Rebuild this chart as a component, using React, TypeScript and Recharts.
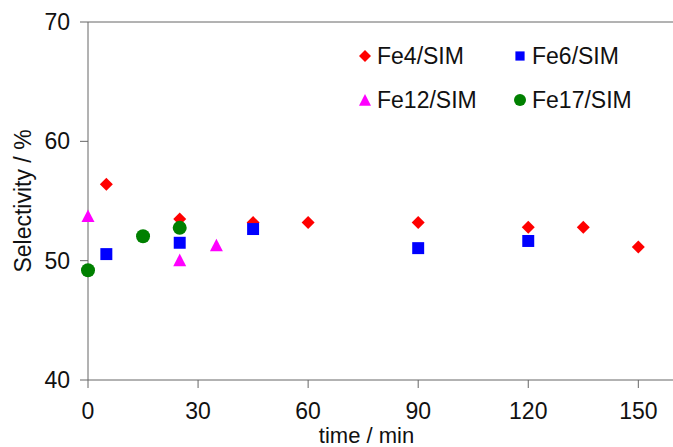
import React from "react";
import {
  ScatterChart,
  Scatter,
  XAxis,
  YAxis,
  ReferenceLine,
  Legend,
} from "recharts";

// time (min) / selectivity (%) per catalyst
const fe4Time = [5, 25, 45, 60, 90, 120, 135, 150];
const fe4Sel = [56.4, 53.5, 53.2, 53.2, 53.2, 52.8, 52.8, 51.15];

const fe6Time = [5, 25, 45, 90, 120];
const fe6Sel = [50.55, 51.5, 52.65, 51.05, 51.65];

const fe12Time = [0, 25, 35];
const fe12Sel = [53.75, 50.05, 51.3];

const fe17Time = [0, 15, 25];
const fe17Sel = [49.2, 52.05, 52.75];

const xTicks = [0, 30, 60, 90, 120, 150];
const yTicks = [40, 50, 60, 70];

const FONT = "'Liberation Sans', Arial, sans-serif";
const AXIS = "#666666";
const TEXT = "#111111";

const RED = "#ff0000";
const BLUE = "#0000ff";
const MAGENTA = "#ff00ff";
const GREEN = "#008000";

const zip = (xs: number[], ys: number[]) => xs.map((t, i) => ({ t, s: ys[i] }));

type ShapeProps = { cx?: number; cy?: number };

function marker(kind: string, cx: number, cy: number, r: number, color: string) {
  if (kind === "diamond") {
    return (
      <polygon
        points={`${cx},${cy - r} ${cx + r},${cy} ${cx},${cy + r} ${cx - r},${cy}`}
        fill={color}
      />
    );
  }
  if (kind === "square") {
    const h = r * 0.92;
    return <rect x={cx - h} y={cy - h} width={h * 2} height={h * 2} fill={color} />;
  }
  if (kind === "triangle") {
    return (
      <polygon
        points={`${cx},${cy - r} ${cx + r},${cy + r * 0.95} ${cx - r},${cy + r * 0.95}`}
        fill={color}
      />
    );
  }
  return <circle cx={cx} cy={cy} r={r} fill={color} />;
}

const makeShape = (kind: string, r: number, color: string) => (props: ShapeProps) => {
  const { cx, cy } = props;
  if (cx == null || cy == null) return <g />;
  return marker(kind, cx, cy, r, color);
};

const series = [
  { name: "Fe4/SIM", kind: "diamond", color: RED },
  { name: "Fe6/SIM", kind: "square", color: BLUE },
  { name: "Fe12/SIM", kind: "triangle", color: MAGENTA },
  { name: "Fe17/SIM", kind: "circle", color: GREEN },
];

function LegendBox() {
  return (
    <div
      style={{
        display: "grid",
        gridTemplateColumns: "155px 150px",
        fontFamily: FONT,
        fontSize: 23,
        color: TEXT,
      }}
    >
      {series.map((s) => (
        <div key={s.name} style={{ display: "flex", alignItems: "center", height: 44 }}>
          <svg width={20} height={20} style={{ marginRight: 2, flex: "none" }}>
            {marker(s.kind, 10, 10, s.kind === "square" ? 5 : 6, s.color)}
          </svg>
          <span>{s.name}</span>
        </div>
      ))}
    </div>
  );
}

function YTitle(props: any) {
  const vb = props.viewBox || {};
  const x = (vb.x ?? 0) + 23;
  const y = (vb.y ?? 0) + (vb.height ?? 0) / 2;
  return (
    <text
      x={x}
      y={y}
      transform={`rotate(-90, ${x}, ${y})`}
      textAnchor="middle"
      dominantBaseline="central"
      fontFamily={FONT}
      fontSize={23}
      fill={TEXT}
    >
      Selectivity / %
    </text>
  );
}

export default function App() {
  return (
    <div
      style={{
        position: "absolute",
        left: 0,
        top: 0,
        width: 673,
        height: 447,
        overflow: "hidden",
        background: "#fff",
      }}
    >
      <ScatterChart
        width={675}
        height={447}
        margin={{ top: 22, right: 0, bottom: 7, left: 0 }}
      >
        <XAxis
          type="number"
          dataKey="t"
          domain={[0, 160]}
          ticks={xTicks}
          height={60}
          stroke={AXIS}
          tickSize={8}
          tickMargin={15}
          tick={{ fontFamily: FONT, fontSize: 23, fill: TEXT }}
          label={{
            value: "time / min",
            position: "insideBottom",
            offset: 0,
            dx: -15,
            dy: 3,
            style: { fontFamily: FONT, fontSize: 22, fill: TEXT },
          }}
        />
        <YAxis
          type="number"
          dataKey="s"
          domain={[40, 70]}
          ticks={yTicks}
          width={88}
          stroke={AXIS}
          tickSize={8}
          tickMargin={10}
          tick={{ fontFamily: FONT, fontSize: 23, fill: TEXT }}
          label={<YTitle />}
        />
        <ReferenceLine y={70} stroke={AXIS} />
        <Legend
          layout="vertical"
          align="center"
          verticalAlign="middle"
          content={() => <LegendBox />}
          wrapperStyle={{ position: "absolute", left: 355, top: 34, width: 320 }}
        />
        <Scatter
          name="Fe4/SIM"
          data={zip(fe4Time, fe4Sel)}
          shape={makeShape("diamond", 6.5, RED)}
          isAnimationActive={false}
        />
        <Scatter
          name="Fe6/SIM"
          data={zip(fe6Time, fe6Sel)}
          shape={makeShape("square", 6.5, BLUE)}
          isAnimationActive={false}
        />
        <Scatter
          name="Fe12/SIM"
          data={zip(fe12Time, fe12Sel)}
          shape={makeShape("triangle", 6.5, MAGENTA)}
          isAnimationActive={false}
        />
        <Scatter
          name="Fe17/SIM"
          data={zip(fe17Time, fe17Sel)}
          shape={makeShape("circle", 7, GREEN)}
          isAnimationActive={false}
        />
      </ScatterChart>
    </div>
  );
}
